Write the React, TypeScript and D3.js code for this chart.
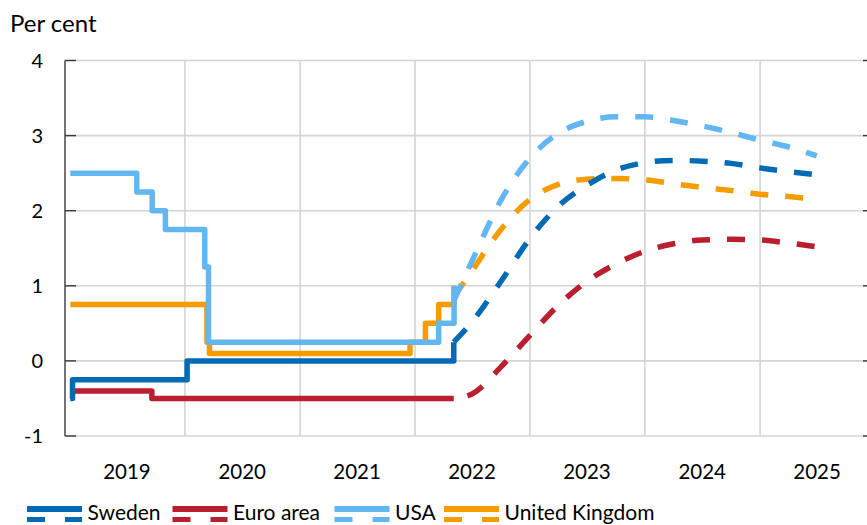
import React from 'react';
import * as d3 from 'd3';

// ---------- data ----------
const yearLabels = ['2019', '2020', '2021', '2022', '2023', '2024', '2025'];
const yTicks = [-1, 0, 1, 2, 3, 4];

// Policy rates (step series): change dates and values
const swedenDates = ['2019-01-02', '2019-01-09', '2020-01-08', '2022-05-04'];
const swedenRates = [-0.5, -0.25, 0, 0.25];
const euroDates = ['2019-01-02', '2019-09-18', '2022-05-04'];
const euroRates = [-0.4, -0.5, -0.5];
const usaDates = ['2019-01-02', '2019-08-01', '2019-09-19', '2019-10-31', '2020-03-04', '2020-03-16', '2022-03-17', '2022-05-05'];
const usaRates = [2.5, 2.25, 2.0, 1.75, 1.25, 0.25, 0.5, 1.0];
const ukDates = ['2019-01-02', '2020-03-11', '2020-03-19', '2021-12-16', '2022-02-03', '2022-03-17', '2022-05-05'];
const ukRates = [0.75, 0.25, 0.1, 0.25, 0.5, 0.75, 1.0];

// Market-implied forward paths (dashed)
const forecastDates = ['2022-05-04', '2022-07-01', '2022-10-01', '2023-01-01', '2023-04-01', '2023-07-01', '2023-10-01', '2024-01-01', '2024-04-01', '2024-07-01', '2024-10-01', '2025-01-01', '2025-04-01', '2025-06-30'];
const swedenForecast = [0.25, 0.52, 1.06, 1.63, 2.06, 2.34, 2.54, 2.64, 2.67, 2.66, 2.63, 2.57, 2.52, 2.48];
const euroForecast = [-0.5, -0.44, -0.08, 0.34, 0.74, 1.06, 1.29, 1.46, 1.56, 1.61, 1.62, 1.61, 1.57, 1.52];
const usaForecast = [0.8, 1.33, 2.14, 2.7, 3.03, 3.19, 3.25, 3.25, 3.2, 3.13, 3.04, 2.94, 2.85, 2.73];
const ukForecast = [0.85, 1.2, 1.75, 2.15, 2.35, 2.42, 2.43, 2.41, 2.36, 2.31, 2.27, 2.22, 2.19, 2.15];

const seriesNames = ['Sweden', 'Euro area', 'USA', 'United Kingdom'];

// ---------- layout / style ----------
const W = 867;
const H = 525;
const FONT = 'Lato, "Open Sans", sans-serif';
const COLORS: Record<string, string> = {
  Sweden: '#006BB4',
  'Euro area': '#B91F2E',
  USA: '#62B6F2',
  'United Kingdom': '#F59C00',
};
const DASH = '18,17';
const legendSwatchX = [27, 172.5, 334.5, 444];

const parse = d3.utcParse('%Y-%m-%d');

export default function App() {
  const x = d3
    .scaleUtc()
    .domain([Date.UTC(2019, 0, 1), Date.UTC(2026, 0, 1)])
    .range([70, 875]);
  const y = d3.scaleLinear().domain([-1, 4]).range([436, 60.5]);

  type P = { d: Date; v: number };
  const toPts = (ds: string[], vs: number[]): P[] => ds.map((s, i) => ({ d: parse(s) as Date, v: vs[i] }));

  const stepLine = d3
    .line<P>()
    .x((p) => x(p.d))
    .y((p) => y(p.v))
    .curve(d3.curveStepAfter);
  const smoothLine = d3
    .line<P>()
    .x((p) => x(p.d))
    .y((p) => y(p.v))
    .curve(d3.curveMonotoneX);

  const series = [
    { name: 'United Kingdom', hist: toPts(ukDates, ukRates), fc: toPts(forecastDates, ukForecast), offset: 0 },
    { name: 'Euro area', hist: toPts(euroDates, euroRates), fc: toPts(forecastDates, euroForecast), offset: 21 },
    { name: 'USA', hist: toPts(usaDates, usaRates), fc: toPts(forecastDates, usaForecast), offset: 0 },
    { name: 'Sweden', hist: toPts(swedenDates, swedenRates), fc: toPts(forecastDates, swedenForecast), offset: 0 },
  ];

  const yearBounds = d3.range(2020, 2026).map((yr) => x(Date.UTC(yr, 0, 1)));
  const yearMid = yearLabels.map((lbl) => x(Date.UTC(+lbl, 6, 1)));

  return (
    <svg
      width={W}
      height={H}
      style={{ position: 'absolute', left: 0, top: 0, background: '#fff' }}
      fontFamily={FONT}
    >
      {/* title */}
      <text x={10} y={32} fontSize={24} fill="#000">
        Per cent
      </text>

      {/* gridlines */}
      {yTicks.map((t) => (
        <line key={'h' + t} x1={65} x2={W} y1={y(t)} y2={y(t)} stroke="#d4d4d4" strokeWidth={1.6} />
      ))}
      {yearBounds.map((xx, i) => (
        <line key={'v' + i} x1={xx} x2={xx} y1={y(4)} y2={y(-1)} stroke="#d4d4d4" strokeWidth={1.6} />
      ))}

      {/* left axis */}
      <line x1={65} x2={65} y1={y(4)} y2={y(-1)} stroke="#3a3a3a" strokeWidth={1.4} />
      {yTicks.map((t) => (
        <g key={'t' + t}>
          <line x1={65} x2={76} y1={y(t)} y2={y(t)} stroke="#3a3a3a" strokeWidth={1.4} />
          <line x1={863} x2={W} y1={y(t)} y2={y(t)} stroke="#3a3a3a" strokeWidth={1.4} />
          <text x={43} y={y(t)} dy="0.36em" textAnchor="end" fontSize={20} fill="#000">
            {t}
          </text>
        </g>
      ))}

      {/* year labels */}
      {yearLabels.map((lbl, i) => (
        <text key={lbl} x={yearMid[i]} y={479} textAnchor="middle" fontSize={20.5} fill="#000">
          {lbl}
        </text>
      ))}

      {/* series */}
      {series.map((s) => (
        <g key={s.name}>
          <path
            d={stepLine(s.hist) || ''}
            fill="none"
            stroke={COLORS[s.name]}
            strokeWidth={5.5}
            strokeLinejoin="round"
          />
          <path
            d={smoothLine(s.fc) || ''}
            fill="none"
            stroke={COLORS[s.name]}
            strokeWidth={5.5}
            strokeDasharray={DASH}
            strokeDashoffset={s.offset}
          />
        </g>
      ))}

      {/* legend */}
      {seriesNames.map((name, i) => {
        const lx = legendSwatchX[i];
        return (
          <g key={'lg' + name}>
            <line x1={lx} x2={lx + 55} y1={509} y2={509} stroke={COLORS[name]} strokeWidth={6} />
            <line
              x1={lx}
              x2={lx + 55}
              y1={519.5}
              y2={519.5}
              stroke={COLORS[name]}
              strokeWidth={5}
              strokeDasharray="18,20"
            />
            <text x={lx + 60.5} y={520} fontSize={21} fill="#000">
              {name}
            </text>
          </g>
        );
      })}
    </svg>
  );
}
